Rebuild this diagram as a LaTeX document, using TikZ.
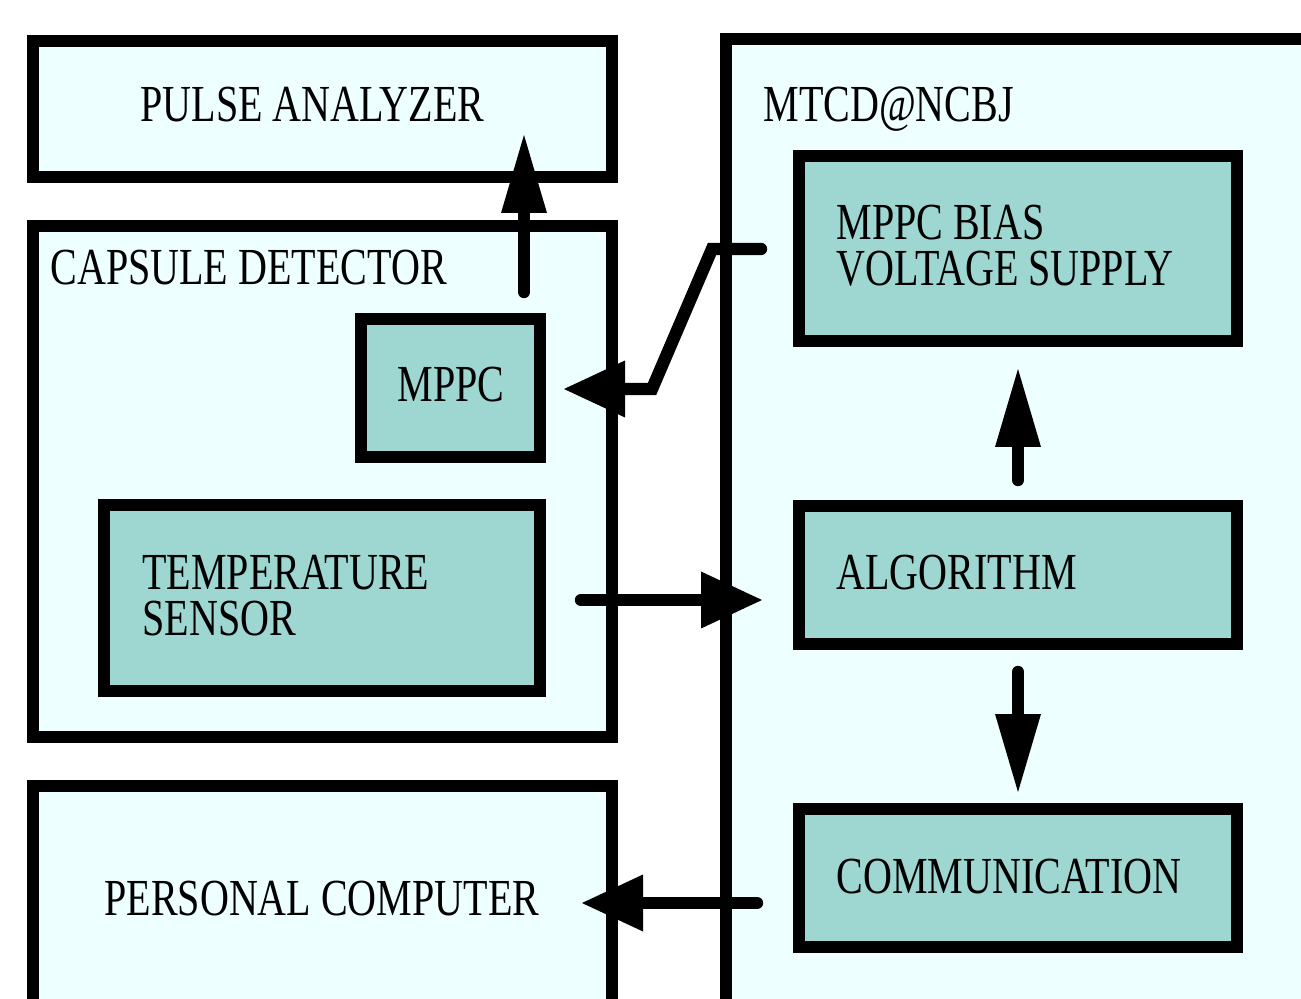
\documentclass[tikz,border=0pt]{standalone}
\usepackage{fontspec}
\setmainfont{Liberation Serif}[FakeStretch=0.77]
\usetikzlibrary{arrows.meta}
\definecolor{panel}{RGB}{238,255,255}
\definecolor{unit}{RGB}{158,214,210}
\begin{document}
\begin{tikzpicture}[x=0.5pt,y=-0.5pt,
  frame/.style={draw=black, line width=6.2pt, fill=panel, rectangle, inner sep=0pt, outer sep=0pt},
  block/.style={frame, fill=unit},
  caption/.style={anchor=base west, inner sep=0pt, font=\fontsize{26pt}{23pt}\selectfont, align=left},
  link/.style={line width=6.2pt, line cap=round, line join=miter},
  hlink/.style={link, -{Triangle[length=30.5pt,width=28.5pt,line width=0pt]}},
  vlink/.style={link, -{Triangle[length=39pt,width=23pt,line width=0pt]}}]
\useasboundingbox (0,0) rectangle (1301,999);
\clip (0,0) rectangle (1301,999);

% outer panels
\node[frame, minimum width=289.5pt, minimum height=68pt]    (pulse)   at (322.5,109)   {};
\node[frame, minimum width=289.5pt, minimum height=255.5pt] (capsule) at (322.5,481.5) {};
\node[frame, minimum width=289.5pt, minimum height=137pt]   (pc)      at (322.5,923)   {};
\node[frame, minimum width=317pt,   minimum height=510.5pt] (mtcd)    at (1043,549.5)  {};

% inner blocks
\node[block, minimum width=219pt,  minimum height=92.5pt] (bias) at (1018,248.5) {};
\node[block, minimum width=219pt,  minimum height=69pt]   (algo) at (1018,575)   {};
\node[block, minimum width=219pt,  minimum height=69pt]   (comm) at (1018,878)   {};
\node[block, minimum width=89.5pt, minimum height=69pt]   (mppc) at (450.5,388)  {};
\node[block, minimum width=218pt,  minimum height=93pt]   (temp) at (322,598)    {};

% captions (two-line captions are placed by their last baseline)
\node[caption] (pulse-t)   at (140,122)   {PULSE ANALYZER};
\node[caption] (capsule-t) at (50,285)    {CAPSULE DETECTOR};
\node[caption] (mtcd-t)    at (763,122)   {MTCD@NCBJ};
\node[caption] (mppc-t)    at (397,402)   {MPPC};
\node[caption] (temp-t)    at (142,635)   {TEMPERATURE\\SENSOR};
\node[caption] (bias-t)    at (836,285.5) {MPPC BIAS\\VOLTAGE SUPPLY};
\node[caption] (algo-t)    at (836,589)   {ALGORITHM};
\node[caption] (comm-t)    at (836,893)   {COMMUNICATION};
\node[caption] (pc-t)      at (104,915)   {PERSONAL COMPUTER};

% connector end points
\coordinate (pa-tail) at (524,292);
\coordinate (pa-tip)  at (524,135);
\coordinate (bs-tail) at (761,249);
\coordinate (bs-b1)   at (712,249);
\coordinate (bs-b2)   at (652,389);
\coordinate (mp-tip)  at (564,389);
\coordinate (ts-tail) at (581,600);
\coordinate (al-tip)  at (762,600);
\coordinate (au-tail) at (1018,480);
\coordinate (au-tip)  at (1018,369);
\coordinate (ad-tail) at (1018,672);
\coordinate (ad-tip)  at (1018,792);
\coordinate (cm-tail) at (757,903);
\coordinate (pc-tip)  at (582,903);

% connectors
\draw[vlink] (pa-tail) -- (pa-tip);
\draw[hlink] (bs-tail) -- (bs-b1) -- (bs-b2) -- (mp-tip);
\draw[hlink] (ts-tail) -- (al-tip);
\draw[vlink] (au-tail) -- (au-tip);
\draw[vlink] (ad-tail) -- (ad-tip);
\draw[hlink] (cm-tail) -- (pc-tip);
\end{tikzpicture}
\end{document}
